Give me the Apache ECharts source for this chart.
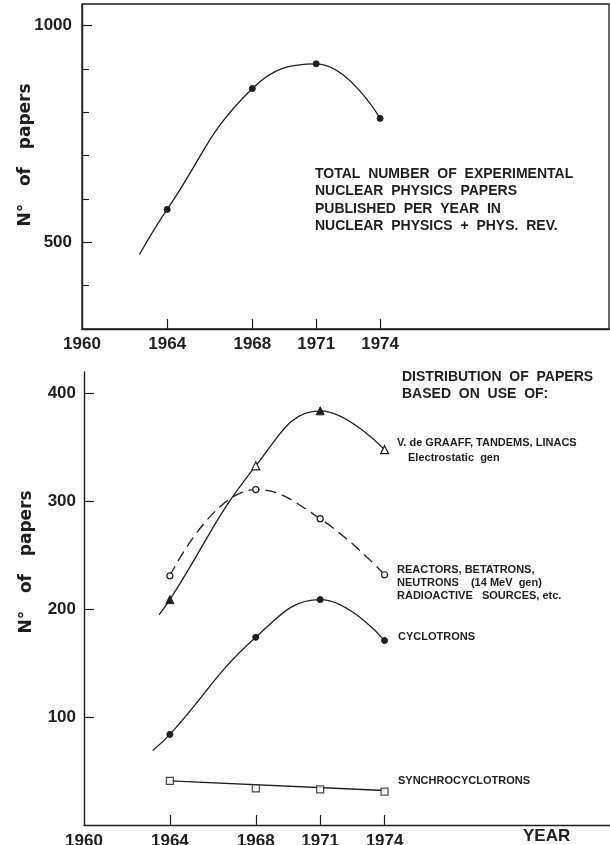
<!DOCTYPE html>
<html>
<head>
<meta charset="utf-8">
<script src="https://cdn.jsdelivr.net/npm/echarts@6/dist/echarts.min.js"></script>
<style>
  html, body { margin: 0; padding: 0; background: #fff; }
  #chart { width: 610px; height: 845px; }
</style>
</head>
<body>
<div id="chart"></div>
<script>
// ---------- data ----------
const years = [1964, 1968, 1971, 1974];
const topXLabels = [1960, 1964, 1968, 1971, 1974];
const topYLabels = [500, 1000];
const topYMinorTicks = [400, 600, 700, 800, 900];
const bottomYLabels = [100, 200, 300, 400];

// top panel: total papers
const totalPapers = [576, 855, 912, 786];
const totalCurveStart = [1962.7, 472];

// bottom panel
const vdgPapers = [209, 333, 384, 348];
const vdgFilled = [true, false, true, false];
const vdgCurveStart = [1963.5, 195];
const reactorPapers = [231, 311, 284, 232];
const cyclotronPapers = [84, 174, 209, 171];
const cyclotronCurveStart = [1963.2, 69];
const synchroPapers = [41, 34, 33, 31];
const synchroFitYears = [1964, 1974];
const synchroFitValues = [41, 32];

// ---------- styles ----------
const INK = '#1e1e1e';
const FONT = '"Liberation Sans", Arial, sans-serif';
const filledStyle = { color: INK, borderColor: INK, borderWidth: 1 };
const openStyle = { color: '#fff', borderColor: INK, borderWidth: 1.2 };

function curveData(start, vals, styleFn) {
  const out = [];
  if (start) out.push({ value: start, symbol: 'none' });
  years.forEach((y, i) => out.push({ value: [y, vals[i]], itemStyle: styleFn(i) }));
  return out;
}

const plain = v => String(v);
const axisLineStyle = { show: true, lineStyle: { color: INK, width: 1.4 } };
const labelStyle = { color: INK, fontFamily: FONT, fontWeight: 'bold', fontSize: 17, formatter: plain };

const chart = echarts.init(document.getElementById('chart'), null, { renderer: 'canvas' });

const option = {
  backgroundColor: '#fff',
  animation: false,
  grid: [
    { left: 82, top: 4, width: 527, height: 325, show: true, borderColor: INK, borderWidth: 1.3, backgroundColor: 'transparent', containLabel: false, outerBoundsMode: 'none' },
    { left: 84, top: 372, width: 526, height: 453, containLabel: false, outerBoundsMode: 'none' }
  ],
  xAxis: [
    {
      type: 'value', gridIndex: 0, min: 1960, max: 1984.75,
      axisLine: axisLineStyle,
      axisTick: { show: true, inside: true, length: 10, customValues: years, lineStyle: { color: INK, width: 1.2 } },
      axisLabel: Object.assign({ customValues: topXLabels, margin: 7 }, labelStyle),
      splitLine: { show: false }
    },
    {
      type: 'value', gridIndex: 1, min: 1960, max: 1984.5,
      axisLine: axisLineStyle,
      axisTick: { show: true, inside: true, length: 10, customValues: years, lineStyle: { color: INK, width: 1.2 } },
      axisLabel: Object.assign({ customValues: topXLabels, margin: 8 }, labelStyle),
      splitLine: { show: false }
    }
  ],
  yAxis: [
    {
      type: 'value', gridIndex: 0, position: 'left', min: 300, max: 1050,
      axisLine: axisLineStyle,
      axisTick: { show: true, inside: true, length: 10, customValues: topYLabels, lineStyle: { color: INK, width: 1.2 } },
      axisLabel: Object.assign({ customValues: topYLabels, margin: 10 }, labelStyle),
      splitLine: { show: false }
    },
    {
      type: 'value', gridIndex: 0, position: 'left', min: 300, max: 1050,
      axisLine: { show: false },
      axisTick: { show: true, inside: true, length: 7, customValues: topYMinorTicks, lineStyle: { color: INK, width: 1.1 } },
      axisLabel: { show: false },
      splitLine: { show: false }
    },
    {
      type: 'value', gridIndex: 1, position: 'left', min: 0, max: 420,
      axisLine: axisLineStyle,
      axisTick: { show: true, inside: true, length: 10, customValues: bottomYLabels, lineStyle: { color: INK, width: 1.2 } },
      axisLabel: Object.assign({ customValues: bottomYLabels, margin: 8 }, labelStyle),
      splitLine: { show: false }
    }
  ],
  series: [
    {
      name: 'Total', type: 'line', xAxisIndex: 0, yAxisIndex: 0, smooth: 0.45,
      symbol: 'circle', symbolSize: 6, showAllSymbol: true,
      lineStyle: { color: INK, width: 1.3 },
      itemStyle: filledStyle,
      data: curveData(totalCurveStart, totalPapers, () => filledStyle),
      silent: true, z: 3
    },
    {
      name: 'VdG', type: 'line', xAxisIndex: 1, yAxisIndex: 2, smooth: 0.45,
      symbol: 'triangle', symbolSize: 8, showAllSymbol: true,
      lineStyle: { color: INK, width: 1.3 },
      itemStyle: openStyle,
      data: curveData(vdgCurveStart, vdgPapers, i => vdgFilled[i] ? filledStyle : openStyle),
      silent: true, z: 3
    },
    {
      name: 'Reactors', type: 'line', xAxisIndex: 1, yAxisIndex: 2, smooth: 0.45,
      symbol: 'circle', symbolSize: 6, showAllSymbol: true,
      lineStyle: { color: INK, width: 1.3, type: [11, 6] },
      itemStyle: openStyle,
      data: curveData(null, reactorPapers, () => openStyle),
      silent: true, z: 3
    },
    {
      name: 'Cyclotrons', type: 'line', xAxisIndex: 1, yAxisIndex: 2, smooth: 0.45,
      symbol: 'circle', symbolSize: 6, showAllSymbol: true,
      lineStyle: { color: INK, width: 1.3 },
      itemStyle: filledStyle,
      data: curveData(cyclotronCurveStart, cyclotronPapers, () => filledStyle),
      silent: true, z: 3
    },
    {
      name: 'SynchroFit', type: 'line', xAxisIndex: 1, yAxisIndex: 2,
      symbol: 'none',
      lineStyle: { color: INK, width: 1.3 },
      data: synchroFitYears.map((y, i) => [y, synchroFitValues[i]]),
      silent: true, z: 2
    },
    {
      name: 'Synchro', type: 'scatter', xAxisIndex: 1, yAxisIndex: 2,
      symbol: 'rect', symbolSize: 7,
      itemStyle: openStyle,
      data: years.map((y, i) => [y, synchroPapers[i]]),
      silent: true, z: 4
    }
  ],
  graphic: [
    { type: 'text', x: 26, y: 155, rotation: Math.PI / 2,
      style: { text: 'N°   of   papers', fill: INK, font: 'bold 17px "DejaVu Sans", sans-serif', align: 'center', verticalAlign: 'middle' } },
    { type: 'text', x: 27, y: 562, rotation: Math.PI / 2,
      style: { text: 'N°   of   papers', fill: INK, font: 'bold 17px "DejaVu Sans", sans-serif', align: 'center', verticalAlign: 'middle' } },

    { type: 'text', x: 315, y: 174, style: { text: 'TOTAL  NUMBER  OF  EXPERIMENTAL', fill: INK, font: 'bold 14px ' + FONT, verticalAlign: 'middle' } },
    { type: 'text', x: 315, y: 191.5, style: { text: 'NUCLEAR  PHYSICS  PAPERS', fill: INK, font: 'bold 14px ' + FONT, verticalAlign: 'middle' } },
    { type: 'text', x: 315, y: 209, style: { text: 'PUBLISHED  PER  YEAR  IN', fill: INK, font: 'bold 14px ' + FONT, verticalAlign: 'middle' } },
    { type: 'text', x: 315, y: 226.5, style: { text: 'NUCLEAR  PHYSICS  +  PHYS.  REV.', fill: INK, font: 'bold 14px ' + FONT, verticalAlign: 'middle' } },

    { type: 'text', x: 402, y: 377, style: { text: 'DISTRIBUTION  OF  PAPERS', fill: INK, font: 'bold 14px ' + FONT, verticalAlign: 'middle' } },
    { type: 'text', x: 402, y: 394.5, style: { text: 'BASED  ON  USE  OF:', fill: INK, font: 'bold 14px ' + FONT, verticalAlign: 'middle' } },

    { type: 'text', x: 397, y: 443, style: { text: 'V. de GRAAFF, TANDEMS, LINACS', fill: INK, font: 'bold 11px ' + FONT, verticalAlign: 'middle' } },
    { type: 'text', x: 408, y: 458, style: { text: 'Electrostatic  gen', fill: INK, font: 'bold 11px ' + FONT, verticalAlign: 'middle' } },
    { type: 'text', x: 397, y: 570, style: { text: 'REACTORS, BETATRONS,', fill: INK, font: 'bold 11px ' + FONT, verticalAlign: 'middle' } },
    { type: 'text', x: 397, y: 583, style: { text: 'NEUTRONS    (14 MeV  gen)', fill: INK, font: 'bold 11px ' + FONT, verticalAlign: 'middle' } },
    { type: 'text', x: 397, y: 595.5, style: { text: 'RADIOACTIVE   SOURCES, etc.', fill: INK, font: 'bold 11px ' + FONT, verticalAlign: 'middle' } },
    { type: 'text', x: 398, y: 637, style: { text: 'CYCLOTRONS', fill: INK, font: 'bold 11px ' + FONT, verticalAlign: 'middle' } },
    { type: 'text', x: 398, y: 781, style: { text: 'SYNCHROCYCLOTRONS', fill: INK, font: 'bold 11px ' + FONT, verticalAlign: 'middle' } },

    { type: 'text', x: 523, y: 836, style: { text: 'YEAR', fill: INK, font: 'bold 17px ' + FONT, verticalAlign: 'middle' } }
  ]
};

chart.setOption(option);
</script>
</body>
</html>
